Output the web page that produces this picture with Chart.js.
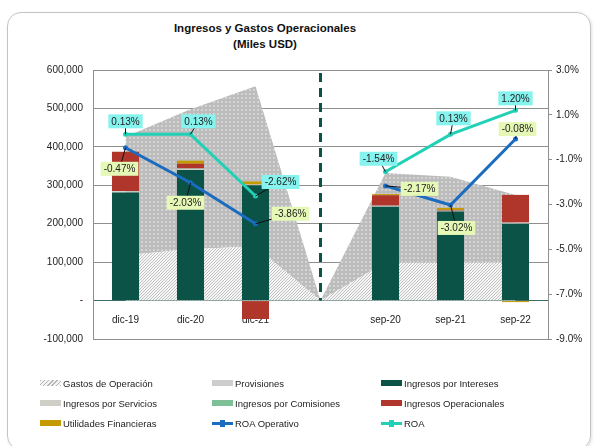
<!DOCTYPE html>
<html>
<head>
<meta charset="utf-8">
<script src="https://cdn.jsdelivr.net/npm/chart.js@4.4.1/dist/chart.umd.min.js"></script>
<style>
  html, body { margin: 0; padding: 0; background: #fff; }
  body { width: 596px; height: 446px; position: relative; overflow: hidden; font-family: "Liberation Sans", Arial, sans-serif; }
  .card { position: absolute; left: 7px; top: 12px; width: 582px; height: 436px; border: 1px solid #c4c4c4; border-radius: 14px; box-shadow: 1px 1px 3px rgba(0,0,0,0.12); }
  .title { position: absolute; left: 165px; width: 200px; top: 20px; text-align: center; font-weight: bold; font-size: 11.5px; line-height: 16px; color: #111; }
  #wrap { position: absolute; left: 0; top: 0; width: 596px; height: 446px; }
  .legend { position: absolute; left: 0; top: 376px; width: 596px; }
  .item { position: absolute; height: 14px; display: flex; align-items: center; font-size: 9.5px; color: #222; white-space: nowrap; }
  .sw { width: 21px; height: 6px; margin-right: 2px; }
  .ln { width: 21px; height: 3px; margin-right: 2px; position: relative; }
  .ln i { position: absolute; left: 8px; top: -2px; width: 5px; height: 7px; }
</style>
</head>
<body>
<div class="card"></div>
<div class="title">Ingresos y Gastos Operacionales<br>(Miles USD)</div>
<div id="wrap"><canvas id="chart" width="596" height="446"></canvas></div>
<div class="legend" id="legend"></div>

<script>
// 카테고리 (가운데 빈 칸은 점선 구분용)
const categories = ['dic-19', 'dic-20', 'dic-21', '', 'sep-20', 'sep-21', 'sep-22'];

// 영역 (Miles USD)
const gastosOperacion = [118000, 134000, 141000, 0, 99000, 99000, 100000];
const provisiones = [308000, 364000, 417000, 0, 233000, 223000, 175000];

// 누적 막대 (Miles USD)
const ingresosIntereses = [281000, 340000, 300000, 0, 244000, 232000, 200000];
const ingresosServicios = [3000, 3000, 2000, 0, 3000, 2000, 3000];
const ingresosComisiones = [1000, 1000, 0, 0, 0, 0, 0];
const ingresosOperacionales = [102000, 12000, -48000, 0, 27000, 2000, 72000];
const utilidadesFinancieras = [0, 8000, 8000, 0, 3000, 5000, -4000];

// 선 (%)
const roaOperativo = [-0.47, -2.03, -3.86, null, -2.17, -3.02, -0.08];
const roa = [0.13, 0.13, -2.62, null, -1.54, 0.13, 1.20];

// 라벨 상자 위치 (점 기준 dx, dy)
const roaOpLabelOffsets = [[-6, 21], [-5, 20], [35, -10], null, [34, 3], [6, 23], [2, -10]];
const roaLabelOffsets = [[0, -13], [8, -13], [25, -14], null, [-7, -13], [3, -16], [0, -12]];

const FONT = '"Liberation Sans", Arial, sans-serif';
Chart.defaults.font.family = FONT;
Chart.defaults.font.size = 10;
Chart.defaults.color = '#222';

const COLORS = {
  intereses: '#0b5247',
  servicios: '#cfcfc8',
  comisiones: '#7fbf98',
  operacionales: '#b0352b',
  utilidades: '#c49a00',
  roaOp: '#1a6cc0',
  roa: '#22d0b6',
  grid: '#8f8f8f',
};

// 빗금 패턴 (Gastos de Operación)
function hatchPattern() {
  const c = document.createElement('canvas');
  c.width = 3; c.height = 3;
  const g = c.getContext('2d');
  g.fillStyle = '#f5f5f5';
  g.fillRect(0, 0, 3, 3);
  g.fillStyle = '#c2c2c2';
  // 대각선 (/) 픽셀
  g.fillRect(2, 0, 1, 1);
  g.fillRect(1, 1, 1, 1);
  g.fillRect(0, 2, 1, 1);
  return g.createPattern(c, 'repeat');
}

// 점 패턴 (Provisiones)
function dotPattern() {
  const c = document.createElement('canvas');
  c.width = 4; c.height = 4;
  const g = c.getContext('2d');
  g.fillStyle = '#bcbcbc';
  g.fillRect(0, 0, 4, 4);
  g.fillStyle = '#d4d4d4';
  g.fillRect(1, 1, 2, 2);
  return g.createPattern(c, 'repeat');
}

// 가운데 점선 + 퍼센트 라벨
const overlayPlugin = {
  id: 'overlay',
  afterDatasetsDraw(chart) {
    const { ctx, chartArea } = chart;
    const x = chart.scales.x.getPixelForValue(3);
    const y0 = chart.scales.y.getPixelForValue(0);
    ctx.save();
    ctx.strokeStyle = '#0b5247';
    ctx.lineWidth = 3;
    ctx.setLineDash([9, 6]);
    ctx.beginPath();
    ctx.moveTo(x, chartArea.top + 3);
    ctx.lineTo(x, y0);
    ctx.stroke();
    ctx.restore();

    chart.data.datasets.forEach((ds, i) => {
      if (!ds.labelOffsets) return;
      const meta = chart.getDatasetMeta(i);
      meta.data.forEach((pt, j) => {
        const v = ds.data[j];
        const off = ds.labelOffsets[j];
        if (v === null || !off) return;
        const text = v.toFixed(2) + '%';
        ctx.save();
        ctx.font = '10px ' + FONT;
        const w = ctx.measureText(text).width + 6;
        const h = 14;
        const cx = pt.x + off[0];
        const cy = pt.y + off[1];
        ctx.strokeStyle = '#111';
        ctx.lineWidth = 1;
        ctx.beginPath();
        ctx.moveTo(pt.x, pt.y);
        ctx.lineTo(cx, cy);
        ctx.stroke();
        ctx.fillStyle = ds.labelBg;
        ctx.fillRect(cx - w / 2, cy - h / 2, w, h);
        ctx.fillStyle = '#222';
        ctx.textAlign = 'center';
        ctx.textBaseline = 'middle';
        ctx.fillText(text, cx, cy + 0.5);
        ctx.restore();
      });
    });
  },
};

function barSet(label, data, color) {
  return {
    type: 'bar',
    label,
    data,
    backgroundColor: color,
    stack: 'bars',
    yAxisID: 'y',
    order: 1,
    barPercentage: 0.52,
    categoryPercentage: 0.8,
  };
}

function lineSet(label, data, color, offsets, bg) {
  return {
    type: 'line',
    label,
    data,
    borderColor: color,
    backgroundColor: color,
    borderWidth: 3,
    pointRadius: 2.5,
    pointBackgroundColor: color,
    pointBorderWidth: 0,
    tension: 0,
    fill: false,
    spanGaps: false,
    yAxisID: 'y1',
    order: 0,
    labelOffsets: offsets,
    labelBg: bg,
  };
}

new Chart(document.getElementById('chart'), {
  data: {
    labels: categories,
    datasets: [
      {
        type: 'line', label: 'Gastos de Operación', data: gastosOperacion,
        backgroundColor: hatchPattern(), borderWidth: 0, pointRadius: 0,
        fill: 'origin', stack: 'areas', yAxisID: 'y', order: 2, tension: 0,
      },
      {
        type: 'line', label: 'Provisiones', data: provisiones,
        backgroundColor: dotPattern(), borderWidth: 0, pointRadius: 0,
        fill: '-1', stack: 'areas', yAxisID: 'y', order: 2, tension: 0,
      },
      barSet('Ingresos por Intereses', ingresosIntereses, COLORS.intereses),
      barSet('Ingresos por Servicios', ingresosServicios, COLORS.servicios),
      barSet('Ingresos por Comisiones', ingresosComisiones, COLORS.comisiones),
      barSet('Ingresos Operacionales', ingresosOperacionales, COLORS.operacionales),
      barSet('Utilidades Financieras', utilidadesFinancieras, COLORS.utilidades),
      lineSet('ROA Operativo', roaOperativo, COLORS.roaOp, roaOpLabelOffsets, '#e6f8b6'),
      lineSet('ROA', roa, COLORS.roa, roaLabelOffsets, '#86f3ee'),
    ],
  },
  options: {
    responsive: false,
    animation: false,
    layout: { padding: { top: 70, bottom: 107, left: 0, right: 0 } },
    plugins: { legend: { display: false }, tooltip: { enabled: false } },
    scales: {
      x: {
        axis: 'x',
        position: { y: 0 },
        stacked: true,
        z: 1,
        grid: { display: false },
        border: { display: true, color: '#3d6c67', width: 1 },
        ticks: { padding: 6, color: '#222', font: { size: 10 } },
      },
      y: {
        position: 'left',
        stacked: true,
        min: -100000,
        max: 600000,
        afterFit: (s) => { s.width = 93; },
        ticks: {
          stepSize: 100000,
          padding: 10,
          callback: (v) => (v === 0 ? '-' : v.toLocaleString('en-US')),
        },
        grid: { color: COLORS.grid, drawTicks: false },
        border: { color: COLORS.grid },
      },
      y1: {
        position: 'right',
        min: -9,
        max: 3,
        afterFit: (s) => { s.width = 48; },
        ticks: { stepSize: 2, padding: 4, callback: (v) => v.toFixed(1) + '%' },
        grid: { drawOnChartArea: false, drawTicks: true, tickLength: 4, color: COLORS.grid },
        border: { color: COLORS.grid },
      },
    },
  },
  plugins: [overlayPlugin],
});

// HTML 범례 (3열 격자)
const legendItems = [
  { label: 'Gastos de Operación', style: 'background:repeating-linear-gradient(135deg,#b4b4b4 0 1px,#f3f3f3 1px 3px)' },
  { label: 'Provisiones', style: 'background:#cdcdcd' },
  { label: 'Ingresos por Intereses', style: 'background:' + COLORS.intereses },
  { label: 'Ingresos por Servicios', style: 'background:' + COLORS.servicios },
  { label: 'Ingresos por Comisiones', style: 'background:' + COLORS.comisiones },
  { label: 'Ingresos Operacionales', style: 'background:' + COLORS.operacionales },
  { label: 'Utilidades Financieras', style: 'background:' + COLORS.utilidades },
  { label: 'ROA Operativo', line: COLORS.roaOp },
  { label: 'ROA', line: COLORS.roa },
];
const colX = [40, 212, 381];
const legendEl = document.getElementById('legend');
legendItems.forEach((it, k) => {
  const d = document.createElement('div');
  d.className = 'item';
  d.style.left = colX[k % 3] + 'px';
  d.style.top = Math.floor(k / 3) * 20 + 'px';
  const sw = it.line
    ? `<span class="ln" style="background:${it.line}"><i style="background:${it.line}"></i></span>`
    : `<span class="sw" style="${it.style}"></span>`;
  d.innerHTML = sw + '<span>' + it.label + '</span>';
  legendEl.appendChild(d);
});
</script>
</body>
</html>
